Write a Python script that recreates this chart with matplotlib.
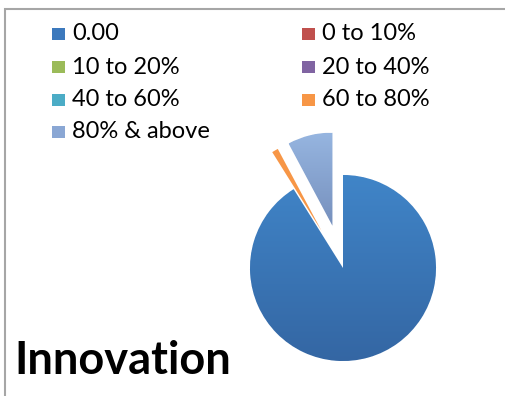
import numpy as np
import matplotlib.pyplot as plt
from matplotlib.patches import Rectangle
from matplotlib.colors import LinearSegmentedColormap

# share of firms by innovation band
labels = ["0.00", "0 to 10%", "10 to 20%", "20 to 40%", "40 to 60%", "60 to 80%", "80% & above"]
shares = [91.1, 0.0, 0.0, 0.0, 0.0, 1.1, 7.8]
colors = ["#3C79BD", "#C0504D", "#9BBB59", "#8064A2", "#4BACC6", "#F79646", "#8AA7D4"]
explode = [0, 0, 0, 0, 0, 0.46, 0.47]
# top / bottom shades for the larger slices
shades = {0: ("#4085C8", "#3466A3"), 6: ("#96B5E0", "#7690BD")}

plt.rcParams["font.family"] = ["Lato", "DejaVu Sans"]

fig = plt.figure(figsize=(5.05, 3.96), dpi=100)
W, H = 505, 396

# chart frame
fig.patches.append(Rectangle((5 / W, -0.1), 1.2, (H - 9) / H + 0.1, transform=fig.transFigure,
                             fill=False, edgecolor="#A6A6A6", linewidth=1.5))

# pie: centre (343, 268) px, radius 93 px
r_px = 93
lim = 1.6
side = 2 * lim * r_px
ax = fig.add_axes([(343 - side / 2) / W, (H - 268 - side / 2) / H, side / W, side / H])
wedges, _ = ax.pie(shares, colors=colors, explode=explode, startangle=90, counterclock=False,
                   wedgeprops=dict(edgecolor="white", linewidth=0.6))
# thin orange sliver keeps no outline so it stays visible to its tip
wedges[5].set_edgecolor("none")
wedges[5].set_zorder(wedges[6].get_zorder() + 1)

grad = np.linspace(0, 1, 256).reshape(-1, 1)
for i, (top, bottom) in shades.items():
    w = wedges[i]
    verts = w.get_patch_transform().transform(w.get_path().vertices)
    x0, y0 = verts.min(axis=0)
    x1, y1 = verts.max(axis=0)
    cmap = LinearSegmentedColormap.from_list("s%d" % i, [bottom, top])
    im = ax.imshow(grad, cmap=cmap, extent=[x0, x1, y0, y1], origin="lower",
                   aspect="auto", zorder=w.get_zorder() + 0.1, interpolation="bilinear")
    im.set_clip_path(w)

ax.set_xlim(-lim, lim)
ax.set_ylim(-lim, lim)
ax.set_aspect("equal")
ax.axis("off")

# legend laid out row by row in two columns
col_x = [52, 302]
row_y = [34, 67, 100, 132]
for i, lab in enumerate(labels):
    x = col_x[i % 2]
    y = row_y[i // 2]
    fig.patches.append(Rectangle((x / W, (H - y - 6) / H), 13 / W, 12 / H, transform=fig.transFigure,
                                 facecolor=colors[i], edgecolor="none"))
    fig.text((x + 20) / W, (H - y) / H, lab, fontsize=17, va="center", ha="left", color="black")

fig.text(14 / W, (H - 361) / H, "Innovation", fontsize=32.5, fontweight="bold", va="center", ha="left")

fig.savefig("out.png", dpi=100)
